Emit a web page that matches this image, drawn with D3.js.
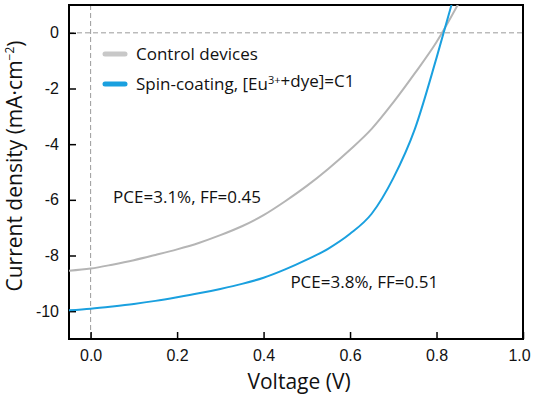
<!DOCTYPE html>
<html lang="en">
<head>
    <meta charset="UTF-8">
    <title>J-V curves</title>
    <script src="https://d3js.org/d3.v7.min.js"></script>
    <style>
        body {
            margin: 0;
            background: #fff;
            font-family: "Open Sans", Arial, sans-serif;
        }
        .tick-label {
            font-size: 16px;
            fill: #111;
        }
        .axis-title {
            font-size: 21px;
            fill: #111;
            text-anchor: middle;
        }
        .note {
            font-size: 17px;
            fill: #111;
        }
    </style>
</head>
<body>
    <svg width="533" height="398"></svg>
    <script>
        // voltage (V) and current density (mA/cm2)
        var voltage = [-0.05, 0, 0.05, 0.1, 0.15, 0.2, 0.25, 0.3, 0.35, 0.4, 0.45, 0.5, 0.55, 0.6, 0.65, 0.7, 0.75, 0.8, 0.85];
        var controlJ = [-8.55, -8.47, -8.33, -8.17, -7.98, -7.78, -7.55, -7.27, -6.95, -6.55, -6.05, -5.5, -4.88, -4.2, -3.45, -2.5, -1.45, -0.33, 1.03];
        var voltageC1 = [-0.05, 0, 0.05, 0.1, 0.15, 0.2, 0.25, 0.3, 0.35, 0.4, 0.45, 0.5, 0.55, 0.6, 0.65, 0.7, 0.75, 0.8, 0.84];
        var c1J = [-9.97, -9.91, -9.83, -9.74, -9.63, -9.5, -9.36, -9.2, -9.02, -8.8, -8.5, -8.15, -7.75, -7.22, -6.5, -5.22, -3.45, -0.9, 1.3];

        var seriesNames = ["Control devices", "Spin-coating, [Eu\u00b3\u207a+dye]=C1"];
        var notes = [
            {text: "PCE=3.1%, FF=0.45", v: 0.052, j: -6.12},
            {text: "PCE=3.8%, FF=0.51", v: 0.462, j: -9.18}
        ];
        var xTicks = [0, 0.2, 0.4, 0.6, 0.8, 1.0];
        var yTicks = [0, -2, -4, -6, -8, -10];

        var margin = {top: 5, right: 10, bottom: 59, left: 69},
            width = 533 - margin.left - margin.right,
            height = 398 - margin.top - margin.bottom;

        var x = d3.scaleLinear().domain([-0.05, 1.0]).range([0, width]),
            y = d3.scaleLinear().domain([-11, 1]).range([height, 0]);

        var svg = d3.select("svg")
          .append("g")
            .attr("transform", "translate(" + margin.left + "," + margin.top + ")");

        svg.append("clipPath").attr("id", "clip")
          .append("rect").attr("width", width).attr("height", height);

        // dashed zero lines
        svg.append("line")
            .attr("x1", 0).attr("x2", width)
            .attr("y1", y(0)).attr("y2", y(0))
            .attr("stroke", "#9a9a9a").attr("stroke-dasharray", "5,3");
        svg.append("line")
            .attr("x1", x(0)).attr("x2", x(0))
            .attr("y1", 0).attr("y2", height)
            .attr("stroke", "#9a9a9a").attr("stroke-dasharray", "5,3");

        // axes: ticks pointing inside
        var xMinor = d3.range(0, 1.0001, 0.1);
        var yMinor = d3.range(-11, 1.0001, 1);

        var xAxis = svg.append("g").attr("transform", "translate(0," + height + ")");
        xAxis.call(d3.axisBottom(x).tickValues(xMinor).tickSize(-4).tickFormat(""));
        xAxis.call(d3.axisBottom(x).tickValues(xTicks).tickSize(-7).tickFormat(d3.format(".1f")));
        xAxis.selectAll(".domain").remove();
        xAxis.selectAll("line").attr("stroke", "#000").attr("stroke-width", 1.5);
        xAxis.selectAll("text").attr("class", "tick-label").attr("y", 11).attr("dy", "0.71em")
            .attr("dx", function(d) { return d === 1 ? -4 : 0; });

        var yAxis = svg.append("g");
        yAxis.call(d3.axisLeft(y).tickValues(yMinor).tickSize(-4).tickFormat(""));
        yAxis.call(d3.axisLeft(y).tickValues(yTicks).tickSize(-7)
            .tickFormat(function(d) { return String(d); }));
        yAxis.selectAll(".domain").remove();
        yAxis.selectAll("line").attr("stroke", "#000").attr("stroke-width", 1.5);
        yAxis.selectAll("text").attr("class", "tick-label").attr("x", -10);

        // frame
        svg.append("rect")
            .attr("width", width).attr("height", height)
            .attr("fill", "none").attr("stroke", "#000").attr("stroke-width", 2);

        var line = d3.line()
            .curve(d3.curveMonotoneX)
            .x(function(d) { return x(d[0]); })
            .y(function(d) { return y(d[1]); });

        svg.append("path")
            .datum(d3.zip(voltage, controlJ))
            .attr("clip-path", "url(#clip)")
            .attr("fill", "none").attr("stroke", "#b5b5b5").attr("stroke-width", 2)
            .attr("d", line);
        svg.append("path")
            .datum(d3.zip(voltageC1, c1J))
            .attr("clip-path", "url(#clip)")
            .attr("fill", "none").attr("stroke", "#1aa0df").attr("stroke-width", 2)
            .attr("d", line);

        // legend
        var colors = ["#c8c8c8", "#1aa0df"];
        var legend = svg.append("g").attr("transform", "translate(36,49)");
        seriesNames.forEach(function(name, i) {
            var g = legend.append("g").attr("transform", "translate(0," + (i * 30) + ")");
            g.append("line")
                .attr("x1", 0).attr("x2", 20)
                .attr("stroke", colors[i]).attr("stroke-width", 5)
                .attr("stroke-linecap", "round");
            var t = g.append("text").attr("class", "note")
                .attr("x", 31).attr("dy", "0.35em");
            if (i === 0) {
                t.text(name);
            } else {
                t.append("tspan").text("Spin-coating, [Eu");
                t.append("tspan").attr("font-size", "11px").attr("dy", "-0.55em").text("3+");
                t.append("tspan").attr("dy", "0.2em").text("+dye]=C1");
            }
        });

        // annotations
        svg.selectAll(".pce")
            .data(notes)
          .enter().append("text")
            .attr("class", "note")
            .attr("x", function(d) { return x(d.v); })
            .attr("y", function(d) { return y(d.j); })
            .text(function(d) { return d.text; });

        // axis titles
        svg.append("text")
            .attr("class", "axis-title")
            .attr("x", x(0.482))
            .attr("y", height + 50)
            .text("Voltage (V)");

        var yt = svg.append("text")
            .attr("class", "axis-title")
            .attr("transform", "rotate(-90)")
            .attr("x", -height / 2 + 6)
            .attr("y", -47);
        yt.append("tspan").text("Current density (mA\u00b7cm");
        yt.append("tspan").attr("font-size", "12px").attr("dy", "-0.7em").text("\u22122");
        yt.append("tspan").attr("dy", "0.45em").text(")");
    </script>
</body>
</html>
